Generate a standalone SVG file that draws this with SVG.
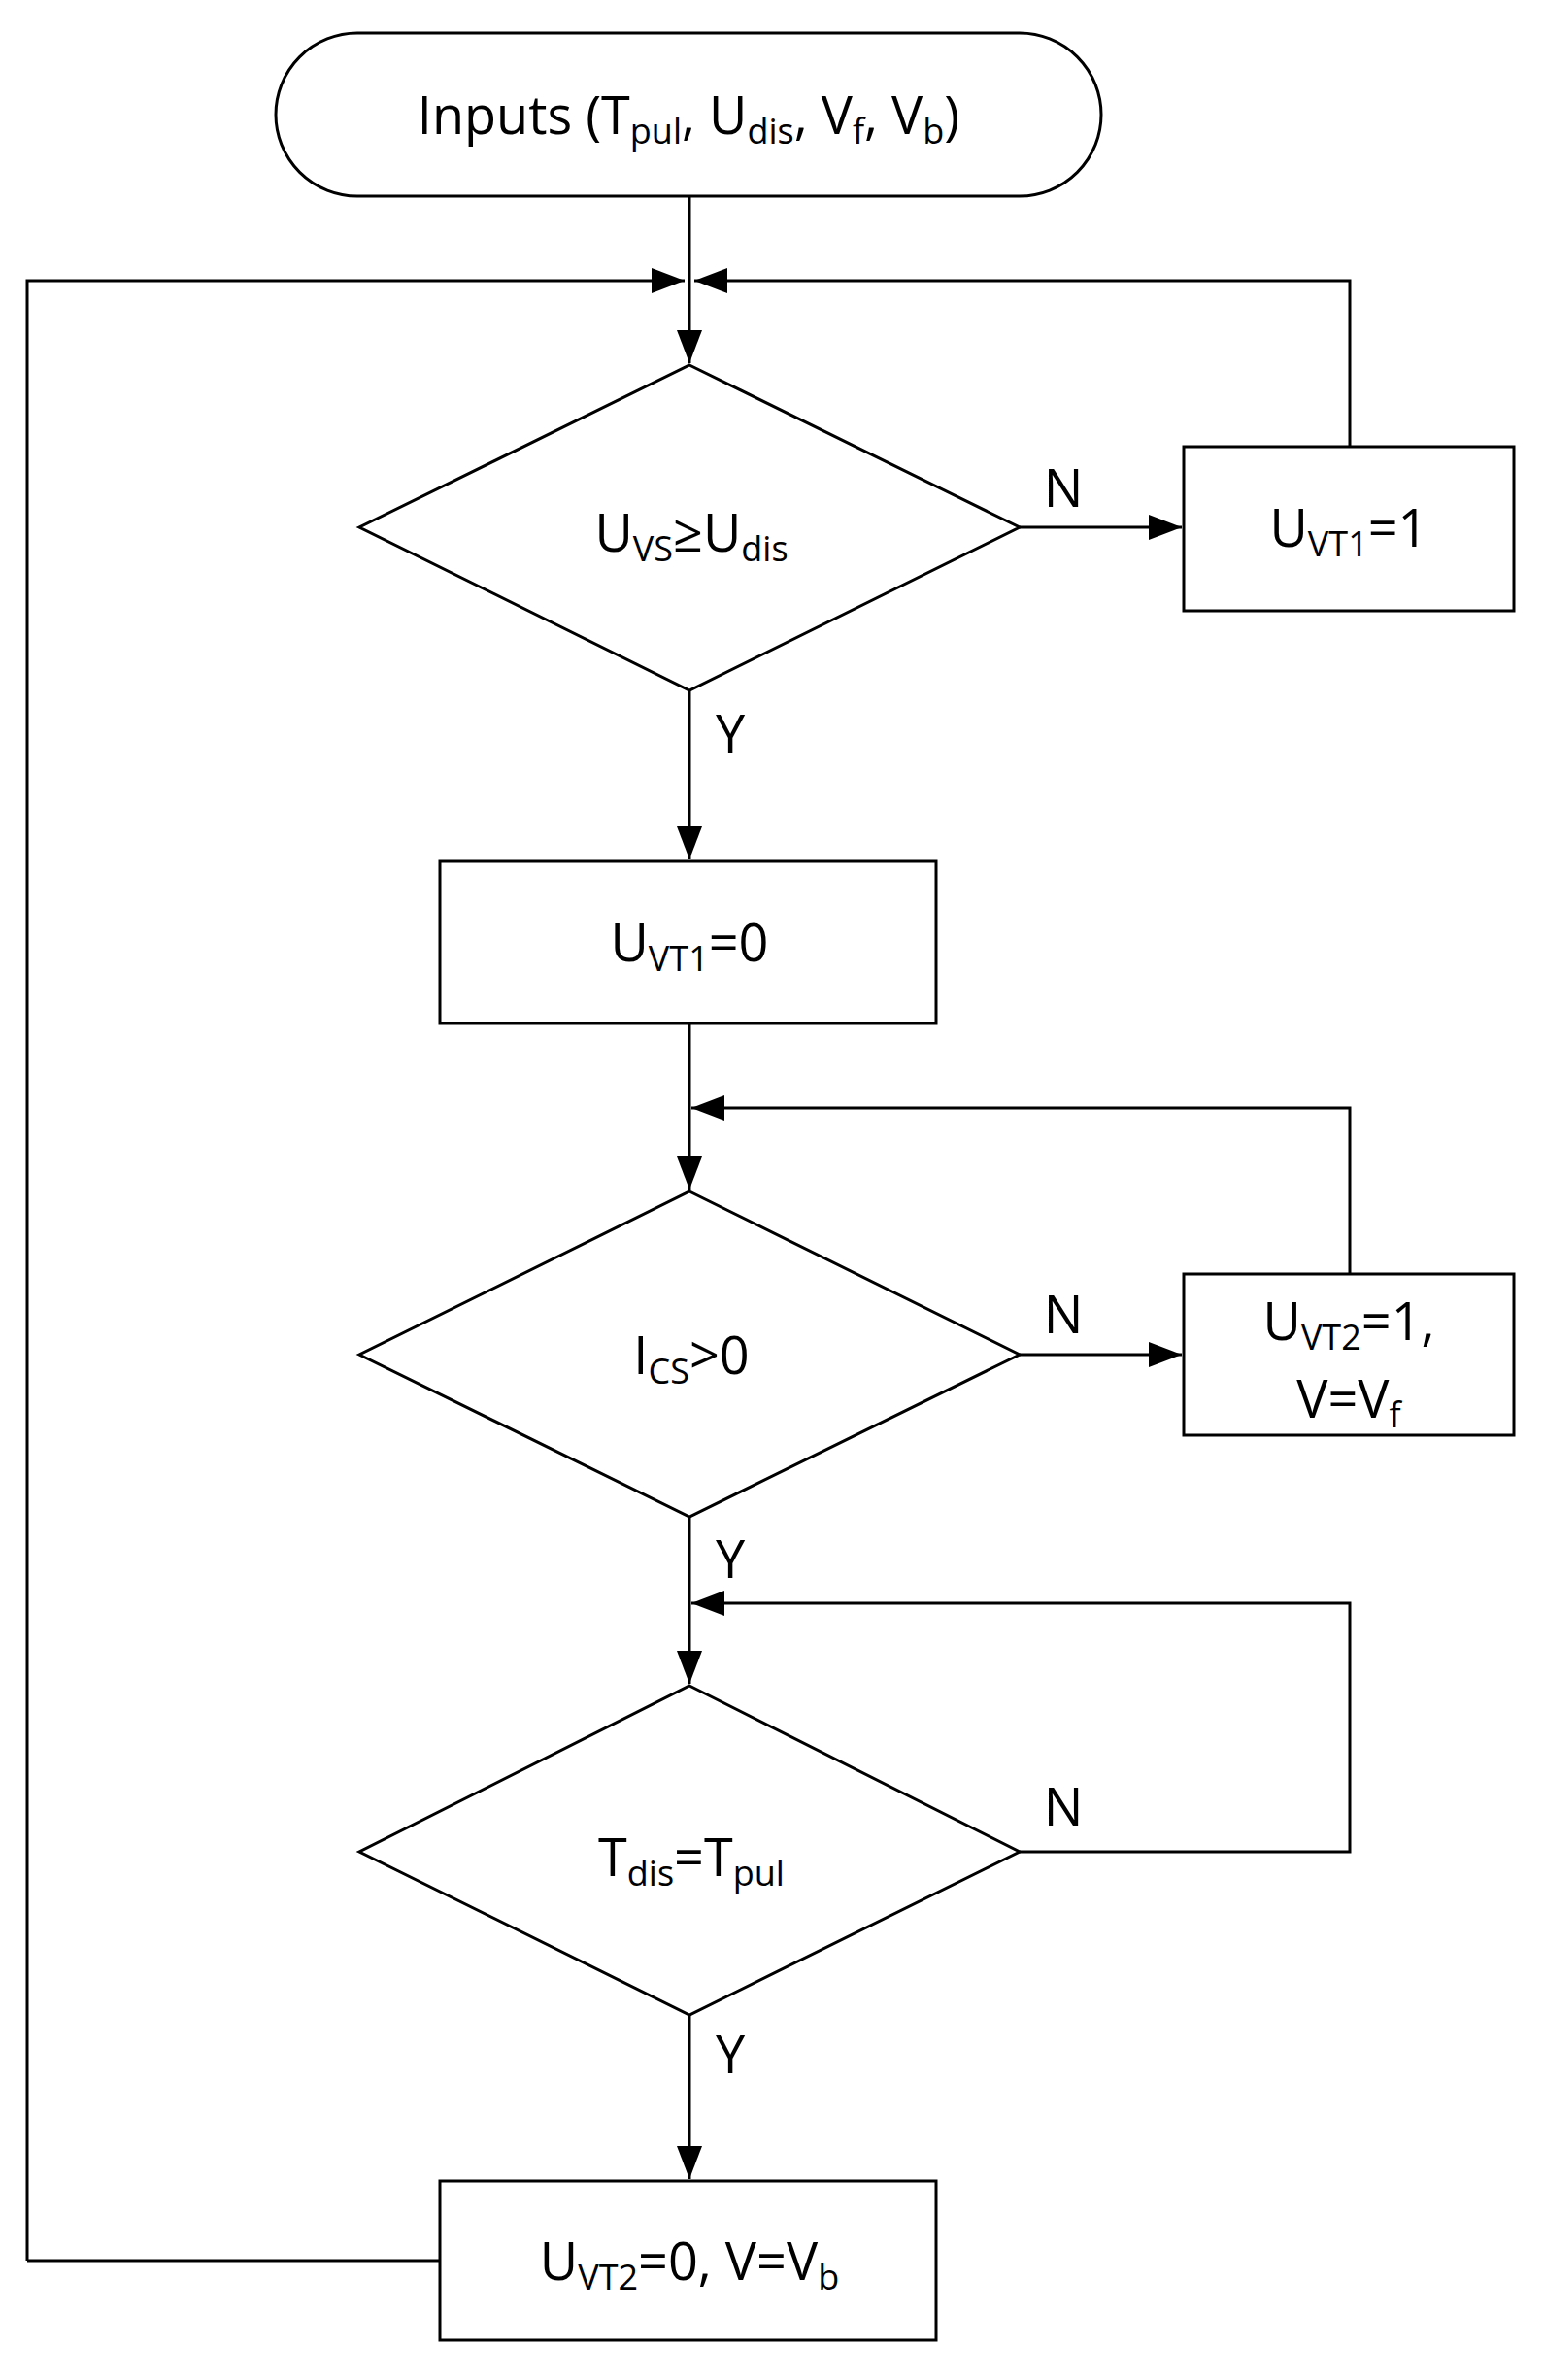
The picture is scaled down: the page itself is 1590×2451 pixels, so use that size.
<svg xmlns="http://www.w3.org/2000/svg" width="1590" height="2451" viewBox="0 0 1590 2451">
<style>
.s{fill:#fff;stroke:#000;stroke-width:3}
.l{fill:none;stroke:#000;stroke-width:3}
text{font-family:"Open Sans","Liberation Sans",sans-serif;font-size:54px;fill:#000}
.c{text-anchor:middle}
</style>
<defs>
<marker id="a" markerUnits="userSpaceOnUse" markerWidth="36" markerHeight="26" refX="34" refY="13" orient="auto"><path d="M0,0L34,13L0,26z" fill="#000"/></marker>
</defs>
<rect width="1590" height="2451" fill="#fff"/>
<g id="connectors">
<path class="l" d="M710,202V374" marker-end="url(#a)"/>
<path class="l" d="M28,2328V289H705" marker-end="url(#a)"/>
<path class="l" d="M1390,460V289H715" marker-end="url(#a)"/>
<path class="l" d="M1050,543H1217" marker-end="url(#a)"/>
<path class="l" d="M710,711V885" marker-end="url(#a)"/>
<path class="l" d="M710,1054V1225" marker-end="url(#a)"/>
<path class="l" d="M1390,1312V1141H712" marker-end="url(#a)"/>
<path class="l" d="M1050,1395H1217" marker-end="url(#a)"/>
<path class="l" d="M710,1562V1734" marker-end="url(#a)"/>
<path class="l" d="M1050,1907H1390V1651H712" marker-end="url(#a)"/>
<path class="l" d="M710,2075V2244" marker-end="url(#a)"/>
<path class="l" d="M453,2328H28"/>
<text x="1095" y="522" class="c">N</text>
<text x="752" y="775" class="c">Y</text>
<text x="1095" y="1373" class="c">N</text>
<text x="752" y="1625" class="c">Y</text>
<text x="1095" y="1880" class="c">N</text>
<text x="752" y="2135" class="c">Y</text>
</g>
<g id="start"><rect class="s" x="284" y="34" width="850" height="168" rx="84"/>
<text x="709" y="138" class="c">Inputs (T<tspan font-size="36" dy="10">pul</tspan><tspan dy="-10">, U</tspan><tspan font-size="36" dy="10">dis</tspan><tspan dy="-10">, V</tspan><tspan font-size="36" dy="10">f</tspan><tspan dy="-10">, V</tspan><tspan font-size="36" dy="10">b</tspan><tspan dy="-10">)</tspan></text></g>
<g id="d1"><path class="s" d="M710,376L1050,543L710,711L370,543z"/>
<text x="712" y="568" class="c">U<tspan font-size="36" dy="10">VS</tspan><tspan dy="-10">≥U</tspan><tspan font-size="36" dy="10">dis</tspan></text></g>
<g id="b1"><rect class="s" x="1219" y="460" width="340" height="169"/>
<text x="1389" y="563" class="c">U<tspan font-size="36" dy="10">VT1</tspan><tspan dy="-10">=1</tspan></text></g>
<g id="b2"><rect class="s" x="453" y="887" width="511" height="167"/>
<text x="710" y="990" class="c">U<tspan font-size="36" dy="10">VT1</tspan><tspan dy="-10">=0</tspan></text></g>
<g id="d2"><path class="s" d="M710,1227L1050,1395L710,1562L370,1395z"/>
<text x="712" y="1415" class="c">I<tspan font-size="36" dy="10">CS</tspan><tspan dy="-10">&gt;0</tspan></text></g>
<g id="b3"><rect class="s" x="1219" y="1312" width="340" height="166"/>
<text x="1389" y="1380" class="c">U<tspan font-size="36" dy="10">VT2</tspan><tspan dy="-10">=1,</tspan></text>
<text x="1389" y="1460" class="c">V=V<tspan font-size="36" dy="10">f</tspan></text></g>
<g id="d3"><path class="s" d="M710,1736L1050,1907L710,2075L370,1907z"/>
<text x="712" y="1932" class="c">T<tspan font-size="36" dy="10">dis</tspan><tspan dy="-10">=T</tspan><tspan font-size="36" dy="10">pul</tspan></text></g>
<g id="b4"><rect class="s" x="453" y="2246" width="511" height="164"/>
<text x="710" y="2348" class="c">U<tspan font-size="36" dy="10">VT2</tspan><tspan dy="-10">=0, V=V</tspan><tspan font-size="36" dy="10">b</tspan></text></g>
</svg>
